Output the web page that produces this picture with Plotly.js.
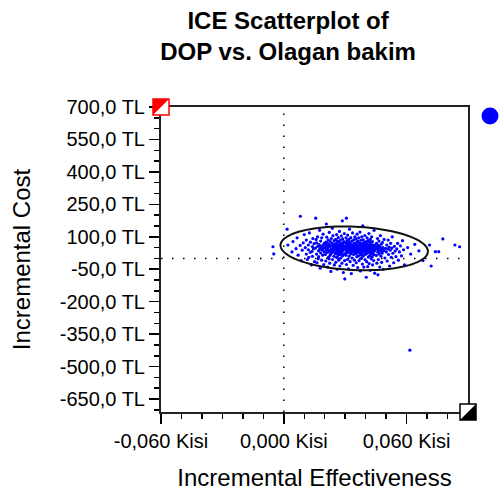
<!DOCTYPE html>
<html><head><meta charset="utf-8">
<script src="https://cdn.plot.ly/plotly-3.0.1.min.js"></script>
<style>html,body{margin:0;padding:0;background:#fff}#chart{width:502px;height:495px}</style>
</head><body><div id="chart"></div>
<script>
// ---- Data ----
const effA = [-0.0053,-0.0049,0.0016,0.002,0.004,0.0045];
const costA = [54,21,135,62,30,78];
const effB = [0.006,0.0065,0.007,0.0081,0.008,0.0085,0.009,0.0095,0.010];
const costB = [45,95,15,195,60,-10,38,72,110];
const effC = [0.0105,0.011,0.011,0.0115,0.012,0.012,0.0125,0.013,0.013,0.0135,0.014,0.014,0.0142,0.0145,0.0148,0.015,0.0138,0.0122];
const costC = [50,20,85,-5,62,40,118,28,75,-30,55,10,92,45,68,-15,33,5];
const effD = [0.0156,0.0155,0.016,0.016,0.0162,0.0165,0.0165,0.017,0.017,0.0172,0.0175,0.0175,0.0178,0.018,0.018,0.0182,0.0185,0.0185,0.0188,0.019,0.019,0.0192,0.0195,0.0195,0.0198,0.0198,0.0158,0.0168,0.0176,0.0186];
const costD = [186,48,20,72,-20,55,100,35,8,64,42,130,-45,80,25,52,-8,95,38,60,15,112,47,-28,70,30,88,-2,58,44];
const effE = [0.0208,0.0202,0.0203,0.0205,0.0205,0.0207,0.021,0.021,0.0212,0.0214,0.0215,0.0217,0.0218,0.022,0.022,0.0222,0.0224,0.0225,0.0226,0.0228,0.023,0.023,0.0232,0.0233,0.0235,0.0236,0.0238,0.024,0.024,0.0242,0.0243,0.0245,0.0246,0.0247,0.0248,0.0249,0.0204,0.0213,0.0221,0.0229,0.0237,0.0244,0.0211,0.0227];
const costE = [159,52,18,75,-12,40,98,60,28,-40,48,85,5,66,35,120,-22,55,14,78,42,-60,92,25,58,70,-5,46,105,30,62,10,82,-30,50,38,64,44,-2,20,140,55,73,33];
const effF = [0.0251,0.0252,0.0253,0.0254,0.0255,0.0256,0.0257,0.0258,0.0259,0.026,0.0261,0.0262,0.0263,0.0264,0.0265,0.0266,0.0267,0.0268,0.0269,0.027,0.0271,0.0272,0.0273,0.0274,0.0275,0.0276,0.0277,0.0278,0.0279,0.028,0.0281,0.0282,0.0283,0.0284,0.0285,0.0286,0.0287,0.0288,0.0289,0.029,0.0291,0.0292,0.0293,0.0294,0.0295,0.0296,0.0297,0.0298,0.0299,0.0252,0.0258,0.0264,0.027,0.0276,0.0282,0.0288];
const costF = [60,22,88,-18,45,70,5,110,35,52,-50,80,28,62,14,96,42,-8,56,75,30,125,48,-35,66,18,85,40,2,58,104,26,70,-22,46,174,12,90,36,62,-65,50,78,20,44,115,-10,-95,55,40,64,50,-2,38,54,68];
const effG = [0.0306,0.0301,0.0302,0.0303,0.0304,0.0305,0.0306,0.0307,0.0308,0.0309,0.031,0.0311,0.0312,0.0313,0.0314,0.0315,0.0316,0.0317,0.0318,0.0319,0.032,0.0321,0.0322,0.0323,0.0324,0.0325,0.0326,0.0327,0.0328,0.0329,0.033,0.0331,0.0332,0.0333,0.0334,0.0335,0.0336,0.0337,0.0338,0.0339,0.034,0.0341,0.0342,0.0343,0.0344,0.0345,0.0346,0.0347,0.0348,0.0349,0.0302,0.0308,0.0314,0.032,0.0326,0.0332,0.0338,0.0344,0.035,0.0318];
const costG = [186,48,72,15,95,38,-28,60,25,82,44,-5,108,52,30,68,-48,40,88,10,58,135,34,74,-15,50,20,96,42,64,-70,28,56,80,2,46,118,36,62,-32,50,18,86,40,70,-8,54,100,26,44,55,44,58,40,52,44,50,36,60,30];
const effH = [0.0351,0.0352,0.0353,0.0354,0.0355,0.0356,0.0357,0.0358,0.0359,0.036,0.0361,0.0362,0.0363,0.0364,0.0365,0.0366,0.0367,0.0368,0.0369,0.037,0.0371,0.0372,0.0373,0.0374,0.0375,0.0376,0.0377,0.0378,0.0379,0.038,0.0381,0.0382,0.0383,0.0384,0.0385,0.0386,0.0387,0.0388,0.0389,0.039,0.0391,0.0392,0.0393,0.0394,0.0395,0.0396,0.0397,0.0398,0.0399,0.0354,0.036,0.0366,0.0372,0.0378,0.0384,0.039];
const costH = [66,22,90,-20,48,74,8,112,38,56,-42,80,30,60,12,95,44,-10,52,72,26,122,46,-58,64,16,84,38,0,55,100,24,68,-26,42,150,10,86,34,58,-40,48,76,18,40,106,-6,62,30,44,38,52,36,50,44,40];
const effI = [0.0403,0.0401,0.0402,0.0404,0.0405,0.0406,0.0407,0.0408,0.0409,0.041,0.0411,0.0412,0.0413,0.0414,0.0415,0.0416,0.0417,0.0418,0.0419,0.042,0.0421,0.0422,0.0423,0.0424,0.0425,0.0426,0.0427,0.0428,0.0429,0.043,0.0431,0.0432,0.0433,0.0434,0.0435,0.0436,0.0437,0.0438,0.0439,0.044,0.0441,0.0442,0.0444,0.0443];
const costI = [-87,50,20,78,-15,40,95,58,26,-38,46,82,6,62,32,115,-24,52,12,74,40,-55,88,22,56,66,-2,44,100,28,60,8,78,-30,48,36,62,40,-10,18,130,52,-68,34];
const effJ = [0.046,0.0451,0.0452,0.0453,0.0455,0.0456,0.0458,0.0459,0.046,0.0462,0.0463,0.0465,0.0466,0.0468,0.0469,0.047,0.0472,0.0473,0.0475,0.0476,0.0478,0.0479,0.048,0.0482,0.0484,0.0486,0.0488,0.049,0.0494,0.0497];
const costJ = [-76,44,14,70,-22,52,92,30,60,-5,40,80,20,56,-40,34,105,48,10,66,-18,42,24,74,50,-50,36,88,2,46];
const effK = [0.0501,0.0503,0.0505,0.0507,0.051,0.0512,0.0515,0.0517,0.052,0.0522,0.0525,0.0528,0.053,0.0533,0.0537,0.054,0.0544,0.0548];
const costK = [30,62,-12,44,85,18,52,-35,38,70,5,48,100,24,-20,56,34,8];
const effL = [0.0552,0.0556,0.056,0.0565,0.057,0.0575,0.058,0.0585,0.059];
const costL = [44,70,-8,30,58,12,82,40,-30];
const effM = [0.0605,0.0616,0.062,0.064,0.066,0.068,0.0712,0.072,0.0741,0.0757,0.0777,0.0836,0.0859];
const costM = [50,-424,20,65,35,-10,62,-35,31,31,90,62,54];
const effCore = [0.0215,0.0225,0.0235,0.0245,0.0255,0.0265,0.0275,0.0285,0.0295,0.0305,0.0315,0.0325,0.0335,0.0345,0.0355,0.0365,0.0375,0.0385,0.0395,0.0405,0.0415,0.0425,0.0435,0.0445,0.022,0.024,0.026,0.028,0.030,0.032,0.034,0.036,0.038,0.040,0.042,0.044,0.046,0.048,0.0253,0.0273,0.0293,0.0313,0.0333,0.0353,0.0373,0.0393,0.0413,0.0433];
const costCore = [30,58,42,66,24,50,36,62,46,28,70,40,54,32,64,46,26,58,44,68,36,50,22,60,62,34,48,26,56,72,38,30,64,48,34,58,44,30,44,20,52,66,36,24,48,70,40,56];

const xTickVals = [-0.06, 0, 0.06];
const xTickText = ['-0,060 Kisi', '0,000 Kisi', '0,060 Kisi'];
const yTickVals = [700, 550, 400, 250, 100, -50, -200, -350, -500, -650];
const yTickText = ['700,0 TL', '550,0 TL', '400,0 TL', '250,0 TL', '100,0 TL', '-50,0 TL', '-200,0 TL', '-350,0 TL', '-500,0 TL', '-650,0 TL'];
const xRange = [-0.06, 0.09];
const yRange = [-710, 700];

// 95% ellipse (center, half major axis vector, half minor axis vector)
const ellipseCenter = [0.0344, 46.5];
const ellipseMajor = [0.036, -15.5];
const ellipseMinor = [0.0005, 100];

// ---- Build ----
const effAll = [].concat(effA, effB, effC, effD, effE, effF, effG, effH, effI, effJ, effK, effL, effM, effCore);
const costAll = [].concat(costA, costB, costC, costD, costE, costF, costG, costH, costI, costJ, costK, costL, costM, costCore);

let ep = '';
for (let i = 0; i <= 96; i++) {
  const t = i / 96 * 2 * Math.PI;
  const px = ellipseCenter[0] + ellipseMajor[0] * Math.cos(t) + ellipseMinor[0] * Math.sin(t);
  const py = ellipseCenter[1] + ellipseMajor[1] * Math.cos(t) + ellipseMinor[1] * Math.sin(t);
  ep += (i === 0 ? 'M' : 'L') + px + ',' + py;
}
ep += 'Z';

const FONT = 'Liberation Sans, Arial, sans-serif';

const traces = [
  {
    type: 'scatter', mode: 'markers', x: effAll, y: costAll,
    marker: {color: '#0000ff', size: 3.2, symbol: 'circle', line: {width: 0}},
    showlegend: false, hoverinfo: 'x+y'
  }
];

const axisCommon = {
  showgrid: false, zeroline: false, showline: true, mirror: true,
  linecolor: '#222', linewidth: 2,
  ticks: 'outside', ticklen: 10, tickwidth: 1.5, tickcolor: '#000',
  tickfont: {family: FONT, size: 20, color: '#000'},
  automargin: false, fixedrange: true
};

const layout = {
  width: 502, height: 495,
  margin: {l: 161, r: 34, t: 107, b: 83, pad: 0},
  paper_bgcolor: '#fff', plot_bgcolor: '#fff',
  showlegend: false,
  font: {family: FONT, color: '#000'},
  title: {
    text: 'ICE Scatterplot of<br>DOP vs. Olagan bakim',
    font: {family: FONT, size: 24, weight: 'bold', color: '#000'},
    xref: 'paper', x: 0.414, xanchor: 'center',
    yref: 'container', y: 0.942, yanchor: 'top'
  },
  xaxis: Object.assign({}, axisCommon, {
    range: xRange, tickmode: 'array', tickvals: xTickVals, ticktext: xTickText,
    minor: {tickmode: 'linear', tick0: 0, dtick: 0.01, ticks: 'outside', ticklen: 5, tickwidth: 1.5, tickcolor: '#000', showgrid: false},
    title: {text: 'Incremental Effectiveness', font: {family: FONT, size: 24, color: '#000'}, standoff: 18}
  }),
  yaxis: Object.assign({}, axisCommon, {
    range: yRange, tickmode: 'array', tickvals: yTickVals, ticktext: yTickText,
    minor: {tickmode: 'linear', tick0: 0, dtick: 50, ticks: 'outside', ticklen: 5, tickwidth: 1.5, tickcolor: '#000', showgrid: false},
    title: {text: 'Incremental Cost', font: {family: FONT, size: 24, color: '#000'}, standoff: 22}
  }),
  shapes: [
    {type: 'line', xref: 'x', yref: 'paper', x0: 0, x1: 0, y0: 0, y1: 1, layer: 'below',
     line: {color: '#000', width: 1.5, dash: '1.5px,9.5px'}},
    {type: 'line', xref: 'paper', yref: 'y', x0: 0, x1: 1, y0: 0, y1: 0, layer: 'below',
     line: {color: '#000', width: 1.5, dash: '1.5px,9.5px'}},
    {type: 'path', xref: 'x', yref: 'y', path: ep, layer: 'above',
     line: {color: '#111', width: 2}, fillcolor: 'rgba(0,0,0,0)'},
    // corner quadrant markers (top-left red, bottom-right black)
    {type: 'path', xref: 'paper', yref: 'paper', xsizemode: 'pixel', ysizemode: 'pixel',
     xanchor: 0, yanchor: 1, path: 'M-8,-8L8,-8L8,8L-8,8Z',
     fillcolor: '#fff', line: {color: '#ff0000', width: 1.5}, layer: 'above'},
    {type: 'path', xref: 'paper', yref: 'paper', xsizemode: 'pixel', ysizemode: 'pixel',
     xanchor: 0, yanchor: 1, path: 'M-8,8L8,8L-8,-8Z',
     fillcolor: '#ff0000', line: {width: 0}, layer: 'above'},
    {type: 'path', xref: 'paper', yref: 'paper', xsizemode: 'pixel', ysizemode: 'pixel',
     xanchor: 1, yanchor: 0, path: 'M-8,-8L8,-8L8,8L-8,8Z',
     fillcolor: '#fff', line: {color: '#000', width: 1.5}, layer: 'above'},
    {type: 'path', xref: 'paper', yref: 'paper', xsizemode: 'pixel', ysizemode: 'pixel',
     xanchor: 1, yanchor: 0, path: 'M-8,-8L8,-8L8,8Z',
     fillcolor: '#000', line: {width: 0}, layer: 'above'},
    // legend symbol, cut by the right edge of the picture
    {type: 'circle', xref: 'paper', yref: 'paper', xsizemode: 'pixel', ysizemode: 'pixel',
     xanchor: 1.0717, yanchor: 0.9705, x0: -8.5, x1: 8.5, y0: -8.5, y1: 8.5,
     fillcolor: '#0000ff', line: {width: 0}, layer: 'above'}
  ]
};

Plotly.newPlot('chart', traces, layout, {displayModeBar: false, staticPlot: true});
</script></body></html>
